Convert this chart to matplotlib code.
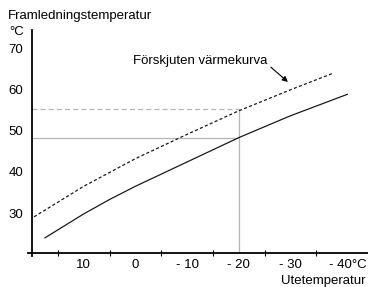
import matplotlib
matplotlib.use("Agg")
import matplotlib.pyplot as plt
from matplotlib.transforms import offset_copy

plt.rcParams["font.family"] = ["Liberation Sans", "DejaVu Sans"]
plt.rcParams["font.size"] = 9.5

# Heat curve (outdoor temp -> supply temp)
curve_t = [17.5, 10, 5, 0, -10, -20, -30, -41]
curve_v = [24.0, 29.8, 33.3, 36.5, 42.4, 48.3, 53.6, 58.8]

# Shifted heat curve
shifted_t = [19.6, 10, 0, -10, -20, -30, -38.2]
shifted_v = [29.1, 36.5, 43.2, 49.1, 54.8, 59.9, 63.9]

# Reference lines at -20 outdoor
ref_t = -20
ref_v = 48.3
ref_shift_v = 55.2

y_ticks = [30, 40, 50, 60, 70]
x_ticks = [15, 5, -5, -15, -25, -35]
x_label_vals = [10, 0, -10, -20, -30, -40]
x_label_txt = ["10", "0", "- 10", "- 20", "- 30", "- 40°C"]

fig = plt.figure(figsize=(3.68, 2.87), dpi=100)
ax = fig.add_axes([32 / 368, 1 - 252.7 / 287, 336 / 368, (252.7 - 30) / 287])
ax.set_xlim(20, -45)
ax.set_ylim(20.4, 74.4)

gray = "#b5b5b5"
ax.plot([20, ref_t], [ref_v, ref_v], color=gray, lw=0.9)
ax.plot([20, ref_t], [ref_shift_v, ref_shift_v], color=gray, lw=0.9, dashes=(4, 2.5))
ax.plot([ref_t, ref_t], [20.4, ref_shift_v], color=gray, lw=0.9)

ax.plot(curve_t, curve_v, color="#1a1a1a", lw=0.9)
ax.plot(shifted_t, shifted_v, color="#1a1a1a", lw=0.9, dashes=(2.5, 1.8))

ax.annotate("", xy=(-29.5, 61.8), xytext=(-26.2, 65.4),
            arrowprops=dict(arrowstyle="-|>", lw=0.8, color="black",
                            mutation_scale=8, shrinkA=0, shrinkB=0))
ax.text(-12.5, 66.9, "Förskjuten värmekurva", ha="center", va="center")

for s in ax.spines.values():
    s.set_visible(False)
ax.plot([-0.012, 1], [0, 0], transform=ax.transAxes, clip_on=False, color="black", lw=1.3)
ax.plot([0, 0], [-0.014, 1], transform=ax.transAxes, clip_on=False, color="black", lw=1.3)

ax.set_yticks(y_ticks)
ax.tick_params(axis="y", length=0, pad=6.5)
ax.set_xticks(x_ticks)
ax.tick_params(axis="x", direction="inout", length=5, width=0.8, labelbottom=False)

for v, t in zip(x_label_vals, x_label_txt):
    if t.endswith("°C"):
        tr = offset_copy(ax.get_xaxis_transform(), fig=fig, x=-13, y=0, units="dots")
        ax.text(v, -0.055, t, transform=tr, ha="left", va="center")
    else:
        ax.text(v, -0.055, t, transform=ax.get_xaxis_transform(), ha="center", va="center")

fig.text(8 / 368, 1 - 16 / 287, "Framledningstemperatur", ha="left", va="center")
fig.text(9 / 368, 1 - 32 / 287, "°C", ha="left", va="center")
fig.text(366 / 368, 1 - 281 / 287, "Utetemperatur", ha="right", va="center")

fig.savefig("out.png", dpi=100)
